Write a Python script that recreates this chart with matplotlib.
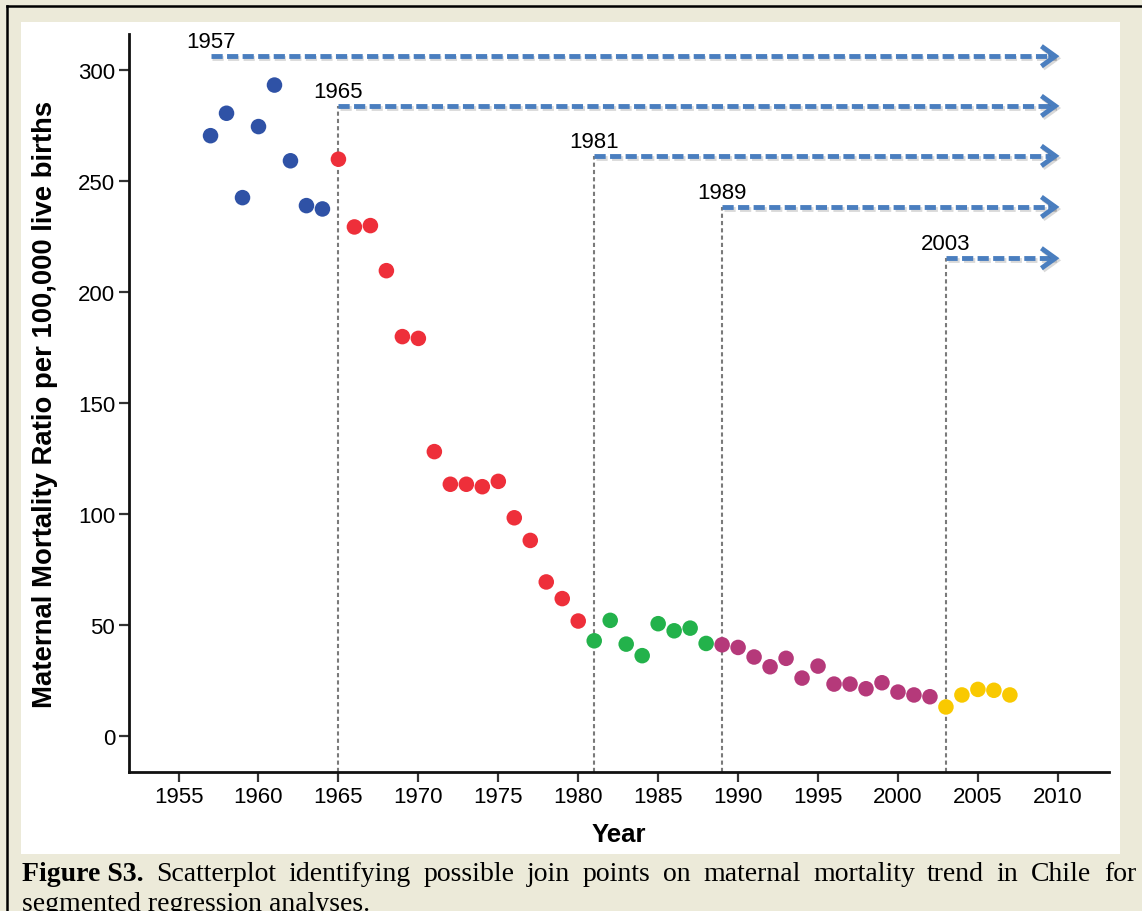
import matplotlib
matplotlib.use("Agg")
import matplotlib.pyplot as plt
import matplotlib.patheffects as pe
from matplotlib.lines import Line2D

# ---------------- data ----------------
years_blue = [1957, 1958, 1959, 1960, 1961, 1962, 1963, 1964]
mmr_blue = [270.4, 280.5, 242.5, 274.5, 293.2, 259.1, 238.9, 237.4]

years_red = [1965, 1966, 1967, 1968, 1969, 1970, 1971, 1972, 1973, 1974, 1975,
             1976, 1977, 1978, 1979, 1980]
mmr_red = [259.8, 229.3, 229.9, 209.6, 179.9, 179.1, 128.1, 113.4, 113.4, 112.3,
           114.7, 98.3, 88.1, 69.4, 61.9, 51.8]

years_green = [1981, 1982, 1983, 1984, 1985, 1986, 1987, 1988]
mmr_green = [42.9, 52.1, 41.4, 36.2, 50.6, 47.4, 48.6, 41.7]

years_magenta = [1989, 1990, 1991, 1992, 1993, 1994, 1995, 1996, 1997, 1998,
                 1999, 2000, 2001, 2002]
mmr_magenta = [41.1, 39.9, 35.6, 31.2, 35.0, 26.1, 31.5, 23.4, 23.4, 21.3,
               24.0, 19.8, 18.5, 17.7]

years_yellow = [2003, 2004, 2005, 2006, 2007]
mmr_yellow = [13.1, 18.5, 21.0, 20.6, 18.5]

join_years = [1957, 1965, 1981, 1989, 2003]
join_arrow_levels = [306.2, 283.8, 261.3, 238.3, 215.2]
arrow_end_year = 2010.1

x_ticks = [1955, 1960, 1965, 1970, 1975, 1980, 1985, 1990, 1995, 2000, 2005, 2010]
y_ticks = [0, 50, 100, 150, 200, 250, 300]

caption_bold = "Figure S3."
caption_rest = " Scatterplot identifying possible join points on maternal mortality trend in Chile for"
caption_line2 = "segmented regression analyses."

# ---------------- style ----------------
W, H = 1142, 912
BG = "#ecead9"
ARROW = "#4a7ebf"
fig = plt.figure(figsize=(W / 100, H / 100), dpi=100, facecolor=BG)

# outer black border (top & left visible)
fig.add_artist(Line2D([6.5 / W, 6.5 / W], [0, 1 - 6.5 / H], color="black", lw=1.8,
                      transform=fig.transFigure))
fig.add_artist(Line2D([6.5 / W, 1], [1 - 6.5 / H, 1 - 6.5 / H], color="black", lw=1.8,
                      transform=fig.transFigure))
# white panel
fig.add_artist(plt.Rectangle((21 / W, 1 - 855 / H), (1120 - 21) / W, (855 - 23) / H,
                             facecolor="white", edgecolor="none",
                             transform=fig.transFigure, zorder=0))

ax = fig.add_axes([129 / W, 1 - 773 / H, (1109 - 129) / W, (773 - 35) / H])
ax.set_facecolor("none")
ax.set_xlim(1951.9, 2013.2)
ax.set_ylim(-16.2, 316.2)

for s in ["top", "right"]:
    ax.spines[s].set_visible(False)
for s in ["left", "bottom"]:
    ax.spines[s].set_linewidth(2.0)
    ax.spines[s].set_color("#111111")

ax.set_xticks(x_ticks)
ax.set_yticks(y_ticks)
ax.tick_params(axis="both", direction="out", length=7, width=1.6, color="#333333",
               labelsize=16, pad=3)
for lab in ax.get_xticklabels() + ax.get_yticklabels():
    lab.set_fontfamily("Liberation Sans")

ax.set_xlabel("Year", fontsize=18.5, fontweight="bold", family="Liberation Sans",
              labelpad=11)
ax.set_ylabel("Maternal Mortality Ratio per 100,000 live births", fontsize=19.8,
              fontweight="bold", family="Liberation Sans", labelpad=14)

# vertical dotted join lines
ylo = ax.get_ylim()[0]
for yr, lvl in zip(join_years[1:], join_arrow_levels[1:]):
    ax.plot([yr, yr], [ylo, lvl], color="#7a7a7a", lw=1.5, ls=(0, (2, 1.5)),
            zorder=1, clip_on=False)

# arrows
shadow = [pe.SimpleLineShadow(offset=(1.2, -1.5), alpha=0.22, shadow_color="#555555"),
          pe.Normal()]
for yr, lvl in zip(join_years, join_arrow_levels):
    ln, = ax.plot([yr, arrow_end_year - 0.35], [lvl, lvl], color=ARROW, lw=3.5,
                  dashes=(2.3, 0.9), solid_capstyle="butt", dash_capstyle="butt",
                  zorder=3, clip_on=False)
    ln.set_path_effects(shadow)
    ann = ax.annotate("", xy=(arrow_end_year, lvl), xytext=(arrow_end_year - 0.7, lvl),
                      arrowprops=dict(arrowstyle="->, head_length=0.5, head_width=0.36",
                                      color=ARROW, lw=3.5, mutation_scale=20,
                                      shrinkA=0, shrinkB=0, joinstyle="miter",
                                      capstyle="butt"),
                      zorder=3, annotation_clip=False)
    ann.arrow_patch.set_path_effects(shadow)
    ax.annotate(str(yr), xy=(yr, lvl), xytext=(0, 6.5), textcoords="offset points",
                ha="center", va="baseline", fontsize=16, family="Liberation Sans",
                annotation_clip=False)

# scatter points
ms = 125
for xs, ys, c in [(years_blue, mmr_blue, "#2f52a6"),
                  (years_red, mmr_red, "#ee2f3a"),
                  (years_green, mmr_green, "#23b24b"),
                  (years_magenta, mmr_magenta, "#b5397a"),
                  (years_yellow, mmr_yellow, "#f9c900")]:
    ax.scatter(xs, ys, s=ms, color=c, edgecolors="none", zorder=4, clip_on=False)

# caption
cap_font = "Liberation Serif"
cap_size = 20
t1 = fig.text(22 / W, 1 - 881 / H, caption_bold, fontsize=cap_size, fontweight="bold",
              family=cap_font, ha="left", va="baseline")
fig.canvas.draw()
renderer = fig.canvas.get_renderer()
bb = t1.get_window_extent(renderer)
words = caption_rest.split()
start_x = bb.x1
end_x = 1136
widths = []
for w in words:
    t = fig.text(0, 0, w, fontsize=cap_size, family=cap_font)
    widths.append(t.get_window_extent(renderer).width)
    t.remove()
gap = (end_x - start_x - sum(widths)) / len(words)
x = start_x + gap
for w, wd in zip(words, widths):
    fig.text(x / W, 1 - 881 / H, w, fontsize=cap_size, family=cap_font,
             ha="left", va="baseline")
    x += wd + gap
fig.text(22 / W, 1 - 911 / H, caption_line2, fontsize=cap_size, family=cap_font,
         ha="left", va="baseline")

fig.savefig("out.png", dpi=100, facecolor=BG)
